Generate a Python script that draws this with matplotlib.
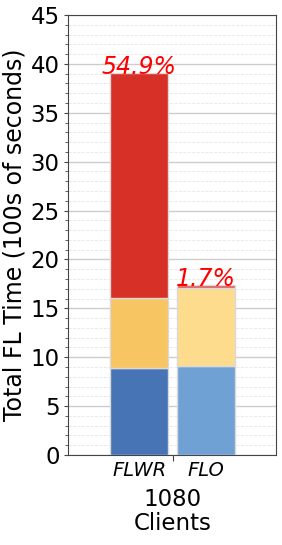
import numpy as np
import matplotlib
matplotlib.use('Agg')
import matplotlib.pyplot as plt
from matplotlib.ticker import MultipleLocator

# ==================== DATA ====================
methods = ['FLWR', 'FLO']
bottom_seg = [8.9, 9.1]     # lower segment (100s of seconds)
middle_seg = [7.15, 8.0]    # middle segment
top_seg = [23.0, 0.3]       # top segment
pct_labels = ['54.9%', '1.7%']
group_label = '1080\nClients'

colors_bottom = ['#4674b5', '#6fa1d4']
colors_middle = ['#f7c561', '#fedc8d']
colors_top = ['#d73127', '#e05a5a']

# ==================== PLOT ====================
fig = plt.figure(figsize=(2.82, 5.45), dpi=100)
ax = fig.add_axes([68 / 282, 1 - 455 / 545, 208 / 282, 440 / 545])

x = np.arange(len(methods))
width = 0.87
edge = dict(edgecolor='#d9d9d9', linewidth=1.0, zorder=3)

ax.bar(x, bottom_seg, width, color=colors_bottom, **edge)
ax.bar(x, middle_seg, width, bottom=bottom_seg, color=colors_middle, **edge)
base2 = np.array(bottom_seg) + np.array(middle_seg)
ax.bar(x, top_seg, width, bottom=base2, color=colors_top, **edge)

totals = base2 + np.array(top_seg)
for xi, tot, lab in zip(x, totals, pct_labels):
    ax.text(xi, tot - 0.6, lab, color='red', style='italic', fontsize=17,
            ha='center', va='bottom', zorder=4)

for xi, name in zip(x, methods):
    ax.text(xi, -0.6, name, style='italic', fontsize=14,
            ha='center', va='top')

ax.set_xlim(-1.06, 2.04)
ax.set_ylim(0, 45)
ax.set_xticks([0.5])
ax.set_xticklabels([group_label], fontsize=16.5, linespacing=1.05)
ax.tick_params(axis='x', pad=20, length=4, color='#444444')
ax.tick_params(axis='y', labelsize=16.5, length=3, pad=3, color='#444444')
ax.yaxis.set_major_locator(MultipleLocator(5))
ax.yaxis.set_minor_locator(MultipleLocator(1))
ax.tick_params(axis='y', which='minor', length=2, color='#444444')
ax.grid(axis='y', which='major', color='#cccccc', linewidth=1.0, zorder=0)
ax.grid(axis='y', which='minor', color='#e6e6e6', linewidth=0.6, linestyle='--', zorder=0)
ax.set_axisbelow(True)
ax.set_ylabel('Total FL Time (100s of seconds)', fontsize=17, labelpad=3)

for s in ax.spines.values():
    s.set_color('#444444')

fig.savefig('out.png', dpi=100)
